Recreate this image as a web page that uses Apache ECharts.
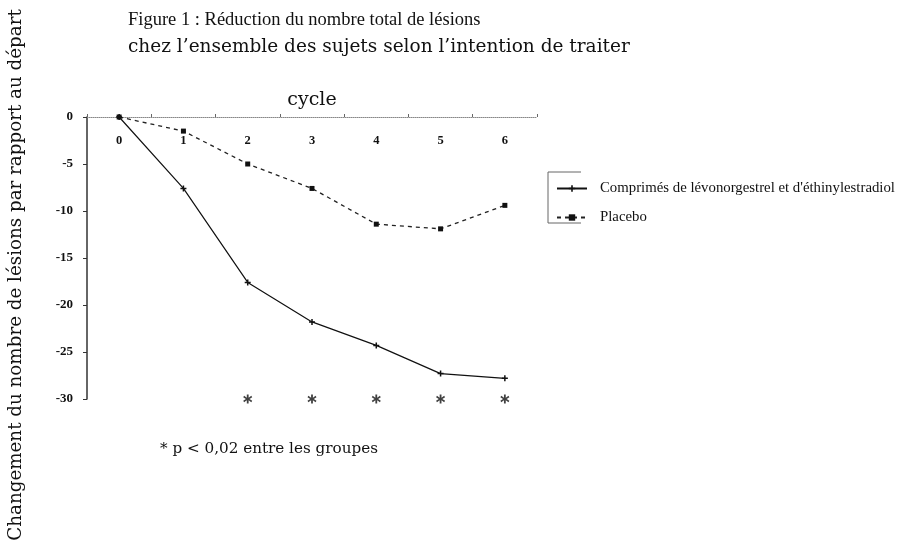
<!DOCTYPE html>
<html><head><meta charset="utf-8">
<script src="https://cdn.jsdelivr.net/npm/echarts@6/dist/echarts.min.js"></script>
<style>html,body{margin:0;padding:0;background:#fff}#c{width:901px;height:550px}</style>
</head><body><div id="c"></div>
<script>
const cycles = ['0','1','2','3','4','5','6'];
const treatment = [0, -7.6, -17.6, -21.8, -24.3, -27.3, -27.8];
const placebo = [0, -1.5, -5.0, -7.6, -11.4, -11.9, -9.4];
const sigCycles = ['2','3','4','5','6'];
const sigLevel = -30;
const yTicks = [0, -5, -10, -15, -20, -25, -30];
const F = '"Liberation Serif", "DejaVu Serif", serif';
const D = '"DejaVu Serif", serif';

const chart = echarts.init(document.getElementById('c'), null, {renderer:'canvas'});
chart.setOption({
  animation:false,
  backgroundColor:'#fff',
  title:{
    text:'Figure 1 : Réduction du nombre total de lésions',
    subtext:'chez l\u2019ensemble des sujets selon l\u2019intention de traiter',
    left:123, top:6, itemGap:8,
    textStyle:{fontFamily:F, fontSize:18.5, fontWeight:'normal', color:'#111'},
    subtextStyle:{fontFamily:D, fontSize:18.5, color:'#111'}
  },
  grid:{left:87, right:364, top:117, bottom:151},
  legend:{
    orient:'vertical', left:551, top:176, itemWidth:30, itemHeight:8, itemGap:14,
    textStyle:{fontFamily:F, fontSize:14.8, color:'#111', padding:[0,0,0,8]},
    data:['Comprimés de lévonorgestrel et d\'éthinylestradiol','Placebo']
  },
  xAxis:{
    type:'category', data:cycles, position:'top', boundaryGap:true,
    name:'cycle', nameLocation:'middle', nameGap:7,
    nameTextStyle:{fontFamily:D, fontSize:19, color:'#111'},
    axisLine:{lineStyle:{color:'#888', type:'dotted', width:1}},
    axisTick:{show:true, length:3, lineStyle:{color:'#666'}},
    axisLabel:{inside:true, margin:17, fontFamily:F, fontSize:12.5, fontWeight:'bold', color:'#111'},
    splitLine:{show:false}
  },
  yAxis:{
    type:'value', min:-30, max:0, interval:5,
    name:'Changement du nombre de lésions par rapport au départ',
    nameLocation:'middle', nameGap:62, nameRotate:90,
    nameTextStyle:{fontFamily:D, fontSize:18.3, color:'#111', padding:[0,34,0,0]},
    axisLine:{show:true, lineStyle:{color:'#333', width:1.5}},
    axisTick:{show:true, length:4, inside:false, lineStyle:{color:'#333'}},
    axisLabel:{margin:14, fontFamily:F, fontSize:13, fontWeight:'bold', color:'#111',
      formatter:v=> yTicks.includes(v) ? String(v) : ''},
    splitLine:{show:false}
  },
  series:[
    {name:'Comprimés de lévonorgestrel et d\'éthinylestradiol', type:'line', data:treatment,
     symbol:'path://M-1,-4H1V-1H4V1H1V4H-1V1H-4V-1H-1Z', symbolSize:6,
     lineStyle:{color:'#111', width:1.2, type:'solid'}, itemStyle:{color:'#111'}},
    {name:'Placebo', type:'line', data:placebo,
     symbol:'rect', symbolSize:5,
     lineStyle:{color:'#222', width:1.3, type:[4,4]}, itemStyle:{color:'#111'}},
    {name:'sig', type:'scatter', data:sigCycles.map(c=>[c, sigLevel]),
     symbol:'path://M-1,-5H1V-1.5L4,-3.5L5,-2L2,0L5,2L4,3.5L1,1.5V5H-1V1.5L-4,3.5L-5,2L-2,0L-5,-2L-4,-3.5L-1,-1.5Z',
     symbolSize:9, itemStyle:{color:'#111'}, silent:true, legendHoverLink:false}
  ],
  graphic:[
    {type:'polyline', shape:{points:[[581,172],[548,172],[548,223],[581,223]]},
     style:{stroke:'#666', lineWidth:1, fill:null}},
    {type:'text', left:160, top:442,
     style:{text:'* p < 0,02 entre les groupes', font:'15.2px "DejaVu Serif", serif', fill:'#111'}}
  ]
});
</script></body></html>
